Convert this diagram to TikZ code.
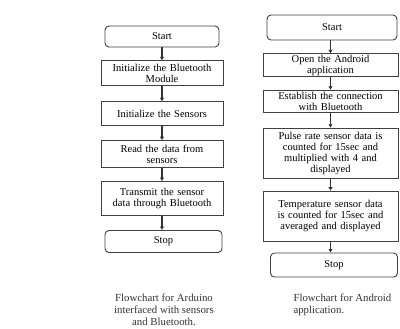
\documentclass[tikz,border=0pt]{standalone}
\usepackage{fontspec}
\setmainfont{Liberation Serif}
\usetikzlibrary{shapes,arrows.meta,positioning}
\tikzstyle{process} = [rectangle, draw=black!75, line width=0.9pt, fill=white,
    text centered, inner sep=1pt, font=\fontsize{10.5}{11}\selectfont]
\tikzstyle{terminal} = [rectangle, draw=black!75, line width=0.9pt, fill=white,
    text centered, rounded corners=4pt, font=\fontsize{10.5}{11}\selectfont]
\tikzstyle{caption} = [align=center, font=\fontsize{10.8}{12}\selectfont, text=black!80]
\tikzstyle{flow} = [draw, line width=1.1pt, black!80, -{Latex[length=3.5pt,width=4.5pt]}]

\begin{document}
\begin{tikzpicture}[node distance=14pt, auto]
    \useasboundingbox (0pt,0pt) rectangle (400pt,-329pt);

    % Arduino side
    \node[terminal, minimum width=114pt, minimum height=21pt] (aStart) at (162pt,-36.5pt) {Start};
    \node[process, below=13pt of aStart, text width=120pt, minimum height=25pt] (initBt) {Initialize the Bluetooth\\Module};
    \node[process, below=15pt of initBt, text width=120pt, minimum height=24pt] (initSensor) {Initialize the Sensors};
    \node[process, below=14pt of initSensor, text width=120pt, minimum height=27pt] (readData) {Read the data from\\sensors};
    \node[process, below=13pt of readData, text width=120pt, minimum height=34pt] (transmit) {Transmit the sensor\\data through Bluetooth};
    \node[terminal, below=14pt of transmit, minimum width=117pt, minimum height=22pt, xshift=1.5pt] (aStop) {Stop};

    \path[flow] (aStart) -- (initBt);
    \path[flow] (initBt) -- (initSensor);
    \path[flow] (initSensor) -- (readData);
    \path[flow] (readData) -- (transmit);
    \path[flow] (transmit.south) -- (aStop.north -| transmit.south);

    % Android side
    \node[terminal, minimum width=130pt, minimum height=25pt] (dStart) at (332pt,-27.5pt) {Start};
    \node[process, below=13pt of dStart, xshift=-1.5pt, text width=133pt, minimum height=22pt] (openApp) {Open the Android\\application};
    \node[process, below=13pt of openApp, text width=133pt, minimum height=22pt] (connect) {Establish the connection\\with Bluetooth};
    \node[process, below=15pt of connect, text width=133pt, minimum height=50pt] (pulse) {Pulse rate sensor data is\\counted for 15sec and\\multiplied with 4 and\\displayed};
    \node[process, below=12pt of pulse, text width=133pt, minimum height=50pt] (temp) {Temperature sensor data\\is counted for 15sec and\\averaged and displayed};
    \node[terminal, below=11pt of temp, xshift=3.5pt, minimum width=127pt, minimum height=24pt] (dStop) {Stop};

    \path[flow] (dStart.south -| openApp.north) -- (openApp);
    \path[flow] (openApp) -- (connect);
    \path[flow] (connect) -- (pulse);
    \path[flow] (pulse) -- (temp);
    \path[flow] (temp.south) -- (dStop.north -| temp.south);

    % captions
    \node[caption, anchor=north] (aCaption) at (164pt,-290pt) {Flowchart for Arduino\\interfaced with sensors\\and Bluetooth.};
    \node[caption, align=left, anchor=north west] (dCaption) at (290pt,-290pt) {Flowchart for Android\\application.};
\end{tikzpicture}
\end{document}
